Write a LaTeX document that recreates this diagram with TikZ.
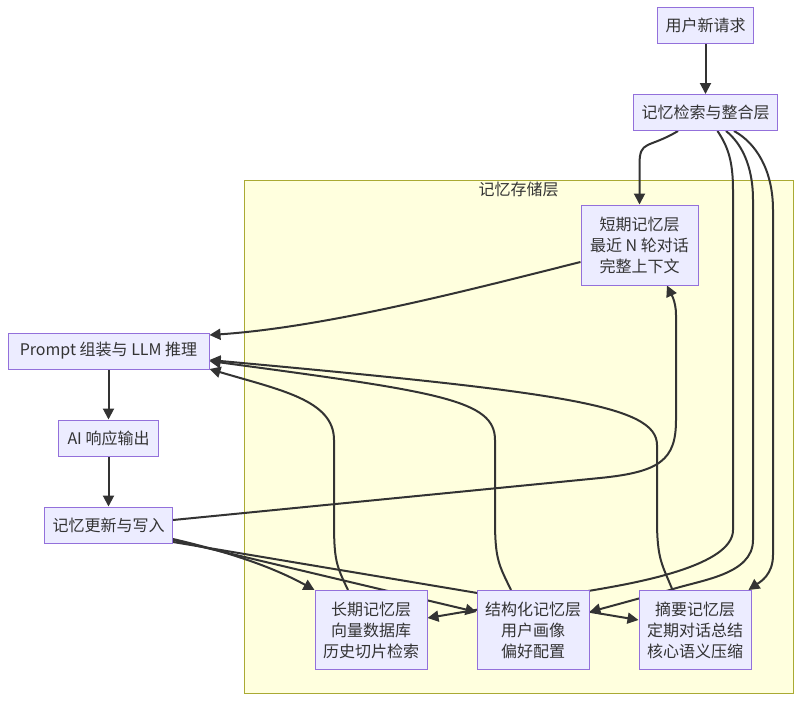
\documentclass[tikz,border=0pt]{standalone}
\usepackage{fontspec}
\setmainfont{Noto Sans CJK SC}
\usepackage{xcolor}
\usetikzlibrary{arrows.meta, positioning, calc}
\definecolor{NodeFill}{HTML}{ECECFF}
\definecolor{NodeLine}{HTML}{9370DB}
\definecolor{StoreFill}{HTML}{FFFFDE}
\definecolor{StoreLine}{HTML}{AAAA33}
\definecolor{InkDark}{HTML}{333333}
\pgfdeclarelayer{storelayer}
\pgfdeclarelayer{edgelayer}
\pgfsetlayers{storelayer,edgelayer,main}

\begin{document}
\begin{tikzpicture}[
    x=1pt, y=-1pt,
    node distance=50pt,
    memnode/.style={draw=NodeLine, fill=NodeFill, line width=1pt, inner xsep=8pt, inner ysep=0pt, minimum height=36pt, align=center, text=InkDark, font=\fontsize{16}{21}\selectfont},
    layernode/.style={memnode, minimum width=112pt, minimum height=79pt},
    memarrow/.style={-{Triangle[length=11pt, width=11pt]}, line width=2pt, draw=InkDark},
    storebox/.style={draw=StoreLine, fill=StoreFill, line width=1pt}
]
\useasboundingbox (0,0) rectangle (801,702);

% Request and retrieval (top right)
\node[memnode, minimum width=95pt] (Req) at (705.5,25.5) {用户新请求};
\node[memnode, minimum width=144pt, below=of Req] (Retr) {记忆检索与整合层};

% Prompt / response / write-back column (left)
\node[memnode, minimum width=201pt] (Prompt) at (108.5,351) {Prompt 组装与 LLM 推理};
\node[memnode, minimum width=100pt, below=of Prompt] (Resp) {AI 响应输出};
\node[memnode, minimum width=127pt, below=of Resp] (Write) {记忆更新与写入};

% Memory storage layers
\node[layernode, minimum width=117pt, minimum height=80pt] (STM) at (639.5,245) {短期记忆层\\最近 N 轮对话\\完整上下文};
\node[layernode] (LTM) at (371,630) {长期记忆层\\向量数据库\\历史切片检索};
\node[layernode, right=49pt of LTM] (STR) {结构化记忆层\\用户画像\\偏好配置};
\node[layernode, minimum width=111pt, right=49pt of STR] (SUM) {摘要记忆层\\定期对话总结\\核心语义压缩};

% Storage cluster
\begin{pgfonlayer}{storelayer}
\fill[white] (0,0) rectangle (801,702);
\draw[storebox] (244,180) rectangle (793,693);
\end{pgfonlayer}
\node[anchor=north, inner sep=0pt, text=InkDark, font=\fontsize{16}{21}\selectfont] (StoreTitle) at (518.5,182) {记忆存储层};

\begin{pgfonlayer}{edgelayer}
% Retrieval flow
\draw[memarrow] (Req) -- (Retr);
\draw[memarrow] ([xshift=-27.5pt]Retr.south) .. controls +(-30,18) and +(0,-25) .. ($(STM.north)+(0,-40)$) -- (STM.north);
\draw[memarrow] ([xshift=12pt]Retr.south) .. controls +(10,15) and +(0,-30) .. (733,190) -- (733,530) .. controls (733,565) and (640,582) .. (600,589) -- ([yshift=12pt]LTM.east);
\draw[memarrow] ([xshift=20.5pt]Retr.south) .. controls +(15,12) and +(0,-35) .. (753,200) -- (753,540) .. controls (753,575) and (700,580) .. (670,590) -- ([yshift=18pt]STR.east);
\draw[memarrow] ([xshift=28.5pt]Retr.south) .. controls +(22,12) and +(0,-40) .. (773,210) -- (773,555) .. controls (773,575) and (760,582) .. ([xshift=-3pt]SUM.north east);

% Layers feeding the prompt
\draw[memarrow] ([yshift=-17pt]STM.west) .. controls +(-100,25) and +(120,-8) .. ([yshift=16pt]Prompt.east);
\draw[memarrow] ([xshift=-23pt]LTM.north) .. controls +(-12,-25) and +(0,40) .. (334,520) -- (334,440) .. controls (334,400) and (280,390) .. ([yshift=-18pt]Prompt.east);
\draw[memarrow] ([xshift=-22pt]STR.north) .. controls +(-12,-25) and +(0,40) .. (495,520) -- (495,440) .. controls (495,400) and (440,392) .. ([yshift=-10pt]Prompt.east);
\draw[memarrow] ([xshift=-22.5pt]SUM.north) .. controls +(-10,-25) and +(0,40) .. (657,520) -- (657,445) .. controls (657,405) and (560,392) .. ([yshift=-9pt]Prompt.east);

% Output and write-back
\draw[memarrow] (Prompt) -- (Resp);
\draw[memarrow] (Resp) -- (Write);
\draw[memarrow] ([yshift=5pt]Write.east) -- (600,478) .. controls (660,472) and (676,460) .. (676,420) -- (676,315) .. controls (676,300) and (670,292) .. ([xshift=27.5pt]STM.south);
\draw[memarrow] ([yshift=-14pt]Write.east) .. controls +(60,14) and +(-40,-22) .. (LTM.north west);
\draw[memarrow] ([yshift=-15pt]Write.east) -- ([yshift=18pt]STR.west);
\draw[memarrow] ([yshift=-17pt]Write.east) -- ([yshift=10pt]SUM.west);
\end{pgfonlayer}

\end{tikzpicture}
\end{document}
